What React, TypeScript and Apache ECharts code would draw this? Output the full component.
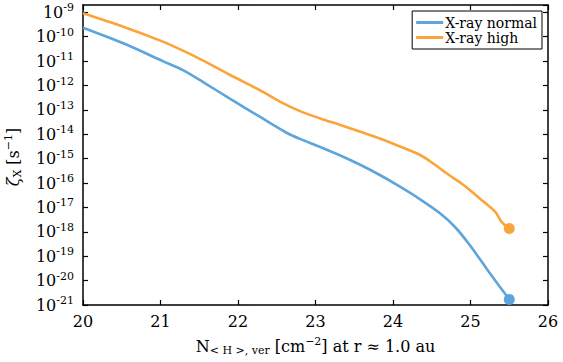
import { useEffect, useRef } from "react";
import * as echarts from "echarts";

// Column density N_<H>,ver (log10 cm^-2) and ionisation rate zeta_X (s^-1)
const normalN = [20.0, 20.52, 21.03, 21.29, 21.55, 21.9, 22.28, 22.54, 22.67, 22.8, 23.06, 23.32, 23.57, 23.83, 24.09, 24.35, 24.61, 24.8, 24.99, 25.21, 25.38, 25.5];
const normalZeta = [2.34e-10, 5.37e-11, 1.0e-11, 4.27e-12, 1.38e-12, 2.82e-13, 5.25e-14, 1.66e-14, 9.77e-15, 6.46e-15, 3.02e-15, 1.35e-15, 5.75e-16, 2.14e-16, 7.08e-17, 2.14e-17, 5.62e-18, 1.58e-18, 2.88e-19, 3.02e-20, 5.5e-21, 1.7e-21];

const highN = [20.0, 20.52, 21.03, 21.29, 21.55, 21.9, 22.28, 22.54, 22.8, 23.06, 23.32, 23.57, 23.83, 24.09, 24.35, 24.52, 24.69, 24.91, 25.12, 25.32, 25.4, 25.5];
const highZeta = [9.12e-10, 2.57e-10, 6.31e-11, 2.69e-11, 1.05e-11, 2.69e-12, 6.46e-13, 2.19e-13, 8.91e-14, 4.47e-14, 2.4e-14, 1.29e-14, 6.76e-15, 3.16e-15, 1.41e-15, 6.31e-16, 2.51e-16, 8.32e-17, 2.34e-17, 6.61e-18, 2.57e-18, 1.38e-18];

// y range of the plot, in s^-1
const zetaMin = 1e-21;
const zetaMax = 2e-9;

const seriesNames = ["X-ray normal", "X-ray high"];
const colors = ["#5DA5DA", "#FAA43A"];

const FONT = "DejaVu Serif";

export default function App() {
  const ref = useRef<HTMLDivElement>(null);

  useEffect(() => {
    const chart = echarts.init(ref.current!, null, { renderer: "svg" });

    const axisLine = { show: true, onZero: false, lineStyle: { color: "#000", width: 1.5 } };
    const axisTick = { show: true, inside: true, length: 5, lineStyle: { color: "#000", width: 1.2 } };

    // The y axis is drawn in decades (log10 of zeta), so very small rates keep their ticks
    const normal = normalN.map((n, i) => [n, Math.log10(normalZeta[i])]);
    const high = highN.map((n, i) => [n, Math.log10(highZeta[i])]);
    const yMin = Math.log10(zetaMin);
    const yMax = Math.log10(zetaMax);

    const supSub = {
      sub: { fontFamily: FONT, fontSize: 11, color: "#000", padding: [9, 0, 0, 0] },
      sup: { fontFamily: FONT, fontSize: 11, color: "#000", padding: [0, 0, 9, 0] },
    };

    const decadeLabel = (v: number) => {
      if (Math.abs(v - Math.round(v)) > 1e-6) return "";
      return `{b|10}{s|${Math.round(v)}}`;
    };

    chart.setOption({
      animation: false,
      backgroundColor: "#fff",
      grid: { left: 83, top: 5, right: 15, bottom: 57, outerBoundsMode: "none" },
      legend: {
        data: seriesNames,
        orient: "vertical",
        right: 21,
        top: 11,
        icon: "rect",
        itemWidth: 27,
        itemHeight: 3,
        itemGap: 0,
        padding: [4, 5, 4, 4],
        borderColor: "#000",
        borderWidth: 1,
        borderRadius: 0,
        backgroundColor: "#fff",
        textStyle: { fontFamily: FONT, fontSize: 14, color: "#000", lineHeight: 15, padding: [0, 0, 0, -3] },
      },
      graphic: [
        {
          type: "text",
          x: 13,
          y: 157,
          rotation: Math.PI / 2,
          style: {
            text: "{it|ζ}{sub|X} [s{sup|−1}]",
            fontFamily: FONT,
            fontSize: 16,
            fill: "#000",
            align: "center",
            verticalAlign: "middle",
            rich: {
              it: { fontFamily: FONT, fontSize: 16, fontStyle: "italic", fill: "#000" },
              sub: { fontFamily: FONT, fontSize: 11, fill: "#000", padding: [9, 0, 0, 0] },
              sup: { fontFamily: FONT, fontSize: 11, fill: "#000", padding: [0, 0, 9, 0] },
            },
          },
        },
      ],
      xAxis: [
        {
          type: "value",
          min: 20,
          max: 26,
          interval: 1,
          position: "bottom",
          axisLine,
          axisTick,
          splitLine: { show: false },
          axisLabel: { fontFamily: FONT, fontSize: 16, color: "#000", margin: 8, lineHeight: 16, showMinLabel: true, showMaxLabel: true, hideOverlap: false },
          name: "N{sub|< H >, ver} [cm{sup|−2}] at r ≈ 1.0 au",
          nameLocation: "middle",
          nameGap: 31,
          nameMoveOverlap: false,
          nameTextStyle: { fontFamily: FONT, fontSize: 16, color: "#000", rich: supSub },
        },
        {
          type: "value",
          min: 20,
          max: 26,
          interval: 1,
          position: "top",
          axisLine,
          axisTick,
          splitLine: { show: false },
          axisLabel: { show: false },
        },
      ],
      yAxis: [
        {
          type: "value",
          min: yMin,
          max: yMax,
          interval: 1,
          position: "left",
          axisLine,
          axisTick,
          splitLine: { show: false },
          axisLabel: {
            margin: 9,
            showMinLabel: true,
            showMaxLabel: false,
            hideOverlap: false,
            formatter: decadeLabel,
            rich: {
              b: { fontFamily: FONT, fontSize: 16, color: "#000", lineHeight: 16 },
              s: { fontFamily: FONT, fontSize: 11, color: "#000", lineHeight: 11, padding: [0, 0, 9, 0] },
            },
          },
        },
        {
          type: "value",
          min: yMin,
          max: yMax,
          interval: 1,
          position: "right",
          axisLine,
          axisTick,
          splitLine: { show: false },
          axisLabel: { show: false },
        },
      ],
      series: [
        {
          type: "line",
          name: seriesNames[0],
          data: normal,
          symbol: "none",
          smooth: 0.3,
          lineStyle: { color: colors[0], width: 2.6 },
          itemStyle: { color: colors[0] },
        },
        {
          type: "line",
          name: seriesNames[1],
          data: high,
          symbol: "none",
          smooth: 0.3,
          lineStyle: { color: colors[1], width: 2.6 },
          itemStyle: { color: colors[1] },
        },
        {
          type: "scatter",
          name: "end-normal",
          data: [normal[normal.length - 1]],
          symbolSize: 11,
          itemStyle: { color: colors[0], opacity: 1 },
          silent: true,
        },
        {
          type: "scatter",
          name: "end-high",
          data: [high[high.length - 1]],
          symbolSize: 11,
          itemStyle: { color: colors[1], opacity: 1 },
          silent: true,
        },
      ],
    });

    return () => chart.dispose();
  }, []);

  return <div ref={ref} style={{ position: "fixed", left: 0, top: 0, width: 563, height: 362 }} />;
}
